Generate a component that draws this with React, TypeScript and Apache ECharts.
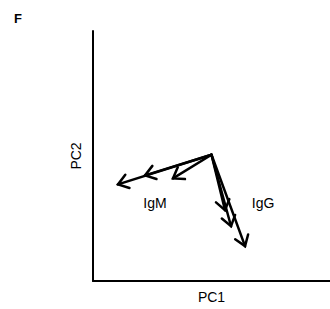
import React, { useEffect, useRef } from "react";
import * as echarts from "echarts";

const origin = [0, 0.01];
const igmLoadings = [
  [-0.789, -0.227],
  [-0.561, -0.155],
  [-0.325, -0.179],
];
const iggLoadings = [
  [0.114, -0.434],
  [0.165, -0.562],
  [0.283, -0.721],
];
const groupLabels = [
  { name: "IgM", value: [-0.477, -0.378] },
  { name: "IgG", value: [0.435, -0.378] },
];
const xName = "PC1";
const yName = "PC2";
const panelLetter = "F";

export default function App() {
  const ref = useRef<HTMLDivElement>(null);
  useEffect(() => {
    if (!ref.current) return;
    const chart = echarts.init(ref.current, null, { renderer: "svg" });
    const arrows = [...igmLoadings, ...iggLoadings].map((p) => [origin[0], origin[1], p[0], p[1]]);
    const font = "'Liberation Sans', Arial, Helvetica, sans-serif";
    chart.setOption({
      animation: false,
      title: {
        text: panelLetter,
        left: 9,
        top: 7,
        textStyle: { fontSize: 13, fontWeight: "bold", color: "#000", fontFamily: font },
      },
      grid: { left: 93, top: 31, right: 0, bottom: 26, containLabel: false },
      xAxis: {
        type: "value",
        min: -1,
        max: 1,
        name: xName,
        nameLocation: "middle",
        nameGap: 9,
        nameTextStyle: { fontSize: 14, color: "#000", fontFamily: font },
        axisLine: { show: true, onZero: false, lineStyle: { color: "#000", width: 2 } },
        axisTick: { show: false },
        axisLabel: { show: false },
        splitLine: { show: false },
      },
      yAxis: {
        type: "value",
        min: -1,
        max: 1,
        name: yName,
        nameLocation: "middle",
        nameGap: 10,
        nameTextStyle: { fontSize: 14, color: "#000", fontFamily: font },
        axisLine: { show: true, onZero: false, lineStyle: { color: "#000", width: 2 } },
        axisTick: { show: false },
        axisLabel: { show: false },
        splitLine: { show: false },
      },
      series: [
        {
          type: "custom",
          data: arrows,
          renderItem: (params: any, api: any) => {
            const a = api.coord([api.value(0), api.value(1)]);
            const b = api.coord([api.value(2), api.value(3)]);
            const ang = Math.atan2(b[1] - a[1], b[0] - a[0]);
            const L = 12;
            const h = (35 * Math.PI) / 180;
            const p1 = [b[0] - L * Math.cos(ang - h), b[1] - L * Math.sin(ang - h)];
            const p2 = [b[0] - L * Math.cos(ang + h), b[1] - L * Math.sin(ang + h)];
            const style = { stroke: "#000", lineWidth: 2.5, fill: null, lineCap: "round", lineJoin: "miter" };
            return {
              type: "group",
              children: [
                { type: "line", shape: { x1: a[0], y1: a[1], x2: b[0], y2: b[1] }, style },
                { type: "polyline", shape: { points: [p1, b, p2] }, style },
              ],
            };
          },
        },
        {
          type: "scatter",
          symbolSize: 0,
          itemStyle: { opacity: 1 },
          data: groupLabels,
          label: {
            show: true,
            position: "inside",
            formatter: "{b}",
            fontSize: 14,
            color: "#000",
            fontFamily: font,
          },
        },
      ],
    });
    return () => chart.dispose();
  }, []);
  return (
    <div
      ref={ref}
      style={{ position: "fixed", left: 0, top: 0, width: 330, height: 309, background: "#fff" }}
    />
  );
}
